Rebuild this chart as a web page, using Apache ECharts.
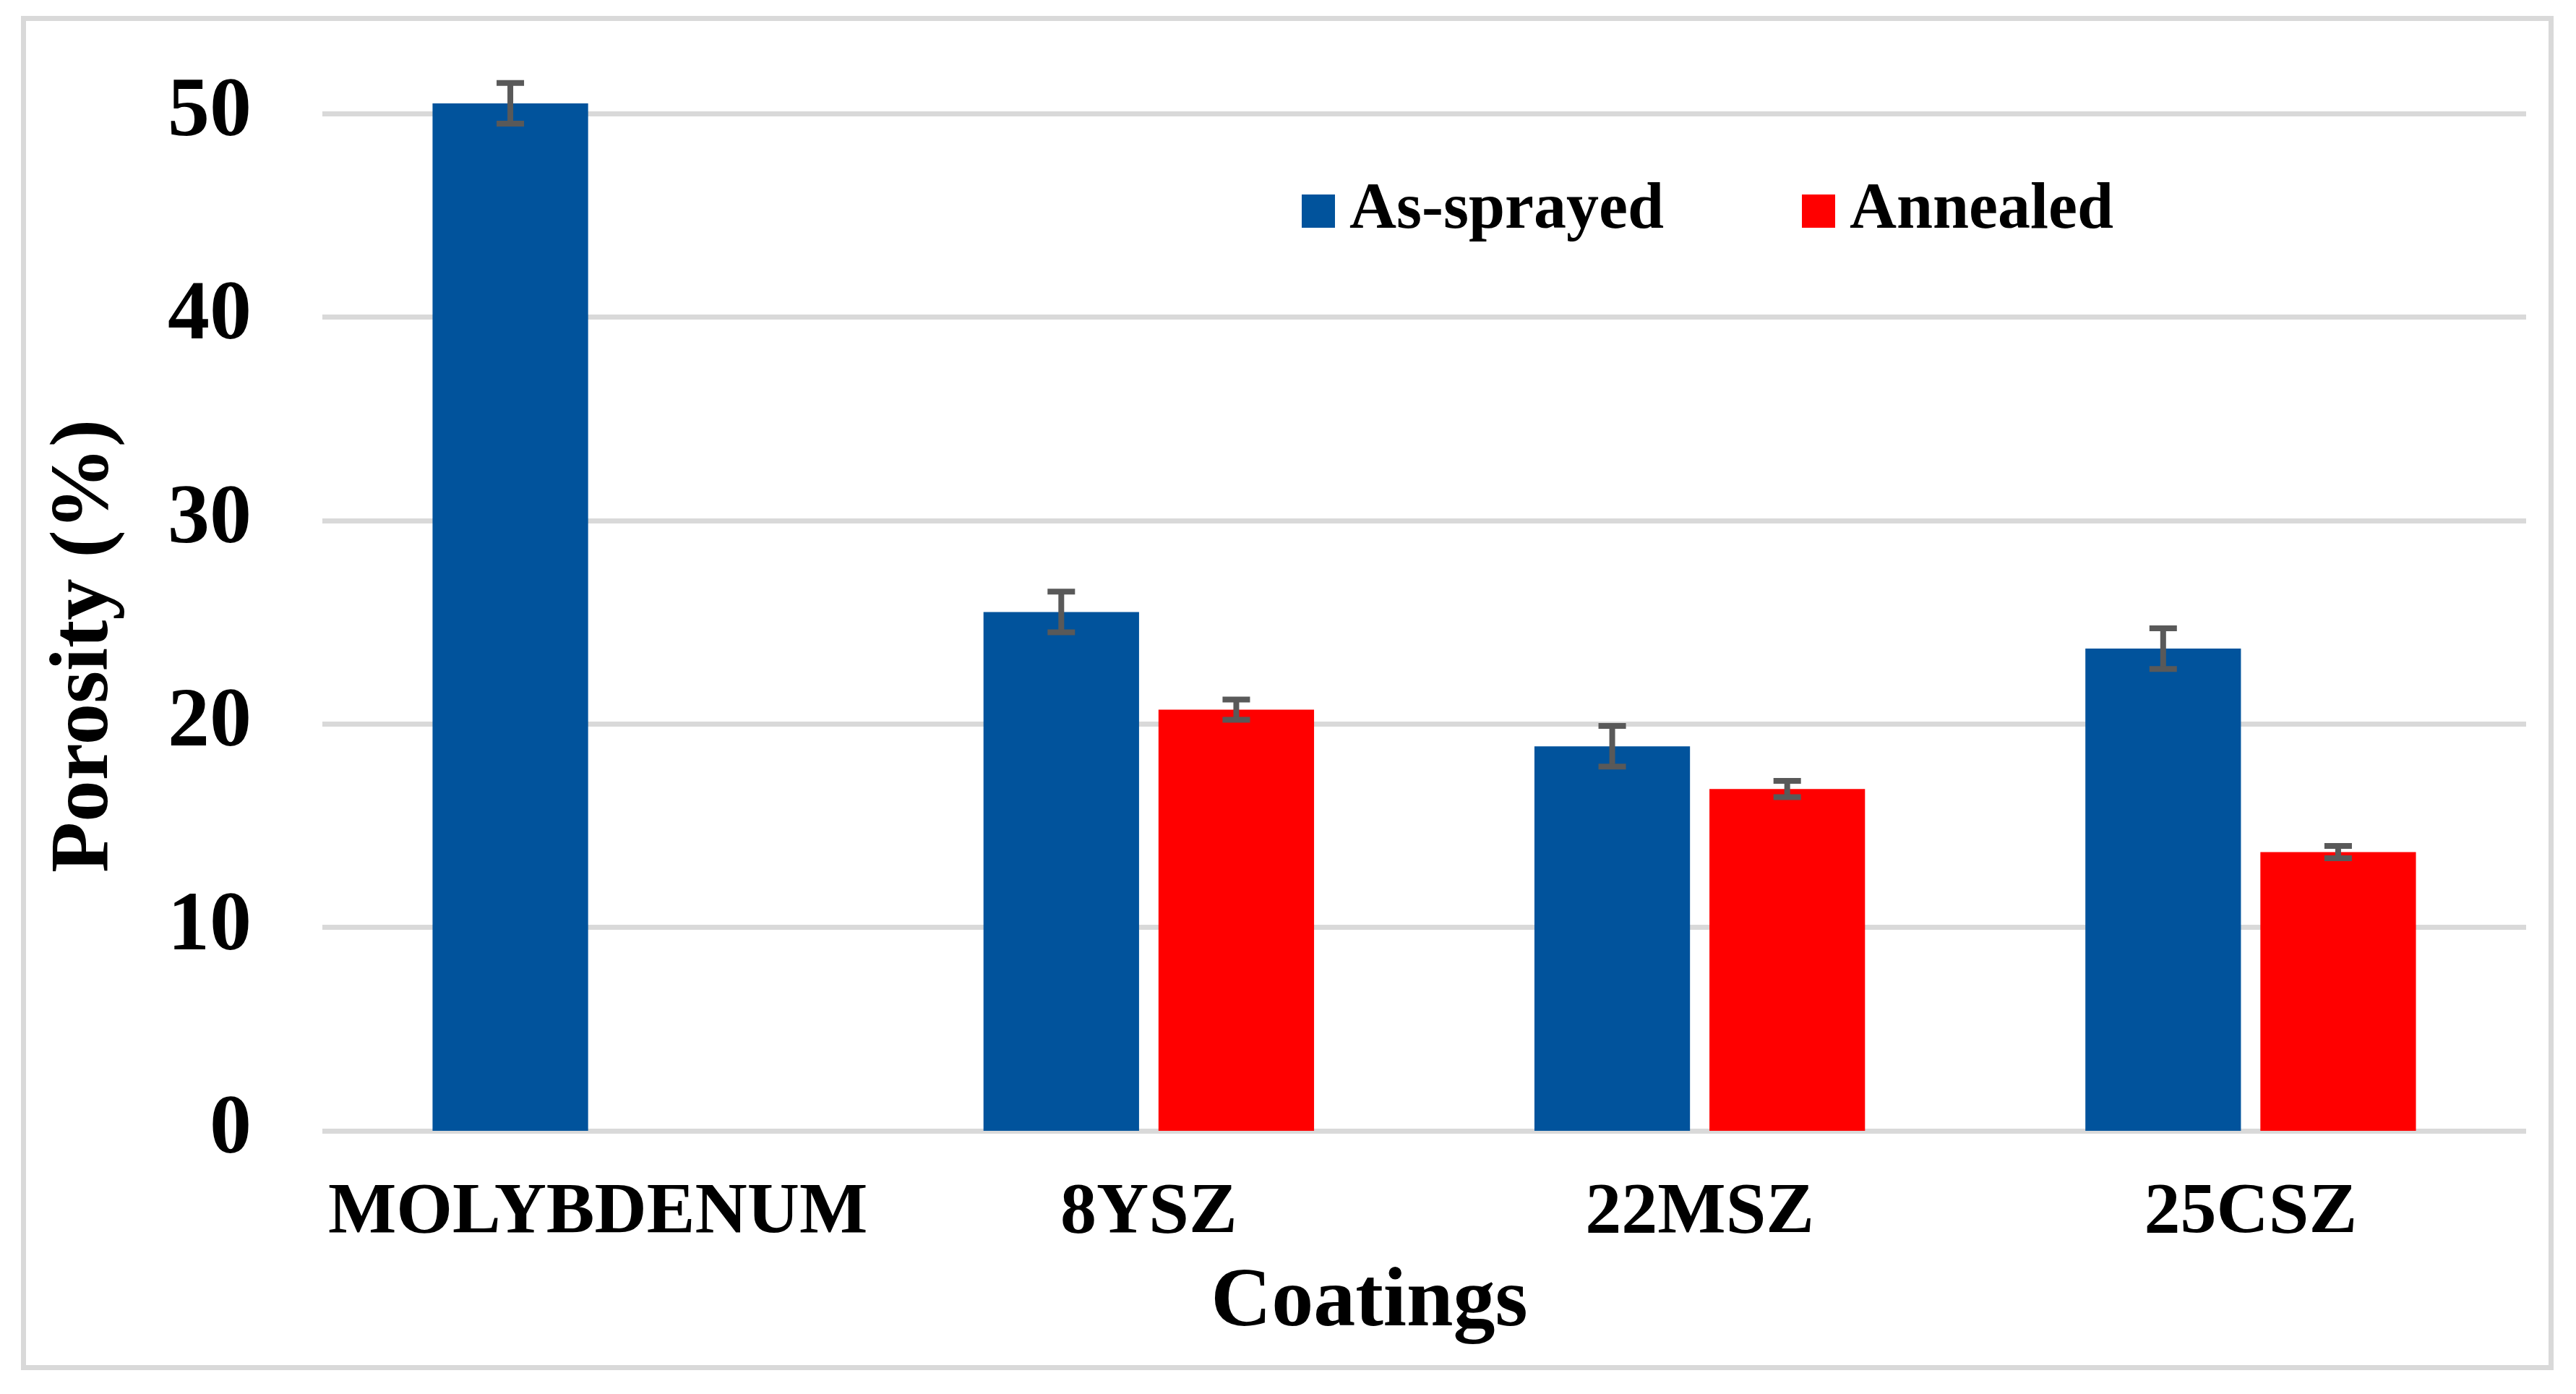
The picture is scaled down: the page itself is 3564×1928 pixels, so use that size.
<!DOCTYPE html>
<html><head><meta charset="utf-8">
<script src="https://cdn.jsdelivr.net/npm/echarts@6/dist/echarts.min.js"></script>
<style>html,body{margin:0;padding:0;background:#fff}#c{width:3564px;height:1928px}</style>
</head><body><div id="c"></div>
<script>
const categories = ['MOLYBDENUM', '8YSZ', '22MSZ', '25CSZ'];
const asSprayed = [50.5, 25.5, 18.9, 23.7];
const asSprayedErr = [1.0, 1.0, 1.0, 1.0];
const annealed = [null, 20.7, 16.8, 13.7];
const annealedErr = [null, 0.5, 0.4, 0.3];
const yMin = 0, yMax = 50, yStep = 10;

const FONT = "'Liberation Serif', 'Times New Roman', serif";
const BLUE = '#01539C', RED = '#FF0000', ERR = '#595959', GRID = '#D9D9D9';

function errData(vals, errs) {
  const out = [];
  vals.forEach((v, i) => { if (v != null && errs[i] != null) out.push([i, v, errs[i]]); });
  return out;
}
function errRender(sign) {
  return function (params, api) {
    const i = api.value(0), v = api.value(1), e = api.value(2);
    const band = api.size([1, 0])[0];
    const bw = band * 0.6 / 2.125;
    const off = sign * bw * 1.125 / 2;
    const top = api.coord([i, v + e]);
    const bot = api.coord([i, v - e]);
    const x = top[0] + off;
    const hw = 19;
    const style = { stroke: ERR, lineWidth: 8, fill: null };
    return {
      type: 'group', children: [
        { type: 'line', shape: { x1: x, y1: top[1], x2: x, y2: bot[1] }, style },
        { type: 'line', shape: { x1: x - hw, y1: top[1], x2: x + hw, y2: top[1] }, style },
        { type: 'line', shape: { x1: x - hw, y1: bot[1], x2: x + hw, y2: bot[1] }, style }
      ]
    };
  };
}

const chart = echarts.init(document.getElementById('c'), null, { renderer: 'canvas' });
chart.setOption({
  animation: false,
  backgroundColor: '#fff',
  textStyle: { fontFamily: FONT },
  graphic: [{
    type: 'rect', z: -10, silent: true,
    shape: { x: 32.5, y: 25.5, width: 3497, height: 1866 },
    style: { fill: null, stroke: GRID, lineWidth: 7 }
  }],
  legend: {
    data: ['As-sprayed', 'Annealed'],
    left: 1801, top: 247, padding: 0,
    itemWidth: 46, itemHeight: 46, itemGap: 191,
    icon: 'rect',
    textStyle: { fontFamily: FONT, fontSize: 90, fontWeight: 'bold', color: '#000', padding: [0, 0, 0, 15] }
  },
  grid: { left: 446, right: 69, top: 157, bottom: 364, containLabel: false },
  xAxis: {
    type: 'category', data: categories,
    axisLine: { show: false }, axisTick: { show: false },
    axisLabel: { interval: 0, fontFamily: FONT, fontSize: 100, fontWeight: 'bold', color: '#000', margin: 64 },
    name: 'Coatings', nameLocation: 'middle', nameGap: 181,
    nameTextStyle: { fontFamily: FONT, fontSize: 116, fontWeight: 'bold', color: '#000', padding: [0, 152, 0, 0] }
  },
  yAxis: {
    type: 'value', min: yMin, max: yMax, interval: yStep,
    axisLine: { show: false }, axisTick: { show: false },
    splitLine: { lineStyle: { color: GRID, width: 7 } },
    axisLabel: { fontFamily: FONT, fontSize: 116, fontWeight: 'bold', color: '#000', margin: 98 },
    name: 'Porosity (%)', nameLocation: 'middle', nameGap: 270,
    nameTextStyle: { fontFamily: FONT, fontSize: 115, fontWeight: 'bold', color: '#000', padding: [0, 66, 0, 0] }
  },
  series: [
    { name: 'As-sprayed', type: 'bar', data: asSprayed, itemStyle: { color: BLUE }, clip: false,
      barGap: '12.5%', barCategoryGap: '40%' },
    { name: 'Annealed', type: 'bar', data: annealed.map(v => v == null ? '-' : v), itemStyle: { color: RED }, clip: false,
      barGap: '12.5%', barCategoryGap: '40%' },
    { name: 'errA', type: 'custom', clip: false, z: 5, renderItem: errRender(-1),
      data: errData(asSprayed, asSprayedErr), encode: { x: 0, y: 1 } },
    { name: 'errB', type: 'custom', clip: false, z: 5, renderItem: errRender(1),
      data: errData(annealed, annealedErr), encode: { x: 0, y: 1 } }
  ]
});
</script></body></html>
